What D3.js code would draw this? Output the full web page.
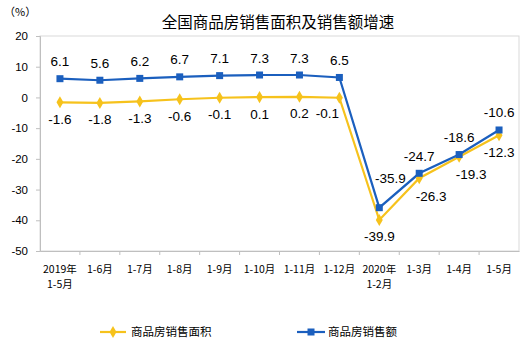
<!DOCTYPE html>
<html><head><meta charset="utf-8">
<script src="https://cdn.jsdelivr.net/npm/d3@7"></script>
<style>body{margin:0;background:#fff}svg{display:block}</style>
</head><body>
<svg id="c" width="524" height="342"></svg>
<script>
const categories = [["2019年","1-5月"],["1-6月"],["1-7月"],["1-8月"],["1-9月"],["1-10月"],["1-11月"],["1-12月"],["2020年","1-2月"],["1-3月"],["1-4月"],["1-5月"]];
const areaGrowth = [-1.6,-1.8,-1.3,-0.6,-0.1,0.1,0.2,-0.1,-39.9,-26.3,-19.3,-12.3];
const salesGrowth = [6.1,5.6,6.2,6.7,7.1,7.3,7.3,6.5,-35.9,-24.7,-18.6,-10.6];
const yTicks = [20,10,0,-10,-20,-30,-40,-50];
const seriesNames = ["商品房销售面积","商品房销售额"];
const title = "全国商品房销售面积及销售额增速";
const unit = "（%）";

const svg = d3.select("#c");
const L=40,R=519,T=36,B=251;
const yellow="#F6C21C", blue="#1B5FBE";
const x = d3.scaleBand().domain(d3.range(categories.length)).range([L,R]);
const y = d3.scaleLinear().domain([-50,20]).range([B,T]);
const cx = i => x(i)+x.bandwidth()/2;

// frame
svg.append("rect").attr("x",L).attr("y",T).attr("width",R-L).attr("height",B-T)
  .attr("fill","none").attr("stroke","#D9D9D9");
// y axis
const ya = svg.append("g").attr("transform",`translate(${L},0)`)
  .call(d3.axisLeft(y).tickValues(yTicks).tickSize(4).tickPadding(8).tickFormat(d=>String(d)));
ya.select(".domain").attr("stroke","#BFBFBF");
ya.selectAll(".tick line").attr("stroke","#BFBFBF");
ya.selectAll("text").attr("font-family","Liberation Sans, Arial").attr("font-size","11.5px").attr("fill","#000");
// x axis
const xa = svg.append("g").attr("transform",`translate(0,${B})`)
  .call(d3.axisBottom(x).tickSize(0).tickFormat(""));
xa.select(".domain").attr("stroke","#BFBFBF");
const bounds = d3.range(1,categories.length);
svg.selectAll(".xt").data(bounds).join("line")
  .attr("x1",i=>x(i)).attr("x2",i=>x(i)).attr("y1",B).attr("y2",B+4).attr("stroke","#BFBFBF");
const xl = svg.append("g").selectAll("text").data(categories).join("text")
  .attr("x",(d,i)=>cx(i)).attr("y",B+22).attr("text-anchor","middle")
  .attr("font-family","Noto Sans CJK SC").attr("font-size","10.5px").attr("fill","#000");
xl.each(function(d){
  const t=d3.select(this);
  d.forEach((s,k)=>t.append("tspan").attr("x",t.attr("x")).attr("dy",k?14.5:0).text(s));
});

// title & unit
svg.append("text").attr("x",278).attr("y",28).attr("text-anchor","middle")
  .attr("font-family","Noto Sans CJK SC").attr("font-size","15.5px").attr("fill","#000").text(title);
svg.append("text").attr("x",4).attr("y",16)
  .attr("font-family","Noto Sans CJK SC").attr("font-size","11px").attr("fill","#000").text(unit);

// lines
const line = d3.line().x((d,i)=>cx(i)).y(d=>y(d));
svg.append("path").datum(areaGrowth).attr("d",line).attr("fill","none").attr("stroke",yellow).attr("stroke-width",2.2);
svg.append("path").datum(salesGrowth).attr("d",line).attr("fill","none").attr("stroke",blue).attr("stroke-width",2.2);
const diamond = d3.symbol().type(d3.symbolDiamond).size(42);
svg.selectAll(".dm").data(areaGrowth).join("path")
  .attr("transform",(d,i)=>`translate(${cx(i)},${y(d)})`).attr("d",diamond).attr("fill",yellow);
svg.selectAll(".sq").data(salesGrowth).join("rect")
  .attr("x",(d,i)=>cx(i)-3.5).attr("y",d=>y(d)-3.5).attr("width",7).attr("height",7).attr("fill",blue);

// labels
const fmt = d => d.toFixed(1);
function addLabels(data, place){
  svg.append("g").selectAll("text").data(data).join("text")
    .attr("x",(d,i)=>cx(i)+place(i)[0]).attr("y",(d,i)=>y(d)+place(i)[1])
    .attr("text-anchor","middle").attr("dominant-baseline","central")
    .attr("font-family","Liberation Sans, Arial").attr("font-size","13.5px").attr("fill","#000")
    .text(d=>fmt(d));
}
addLabels(salesGrowth, i => i===8 ? [11,-29] : [0,-17]);
addLabels(areaGrowth, i => (i===9||i===10) ? [12,18] : i===7 ? [-12,16] : [0,17]);

// legend
const lg = svg.append("g");
lg.append("line").attr("x1",100).attr("x2",126).attr("y1",332).attr("y2",332).attr("stroke",yellow).attr("stroke-width",2.2);
lg.append("path").attr("transform","translate(113,332)").attr("d",diamond).attr("fill",yellow);
lg.append("text").attr("x",131).attr("y",336).attr("font-family","Noto Sans CJK SC").attr("font-size","11.5px").text(seriesNames[0]);
lg.append("line").attr("x1",297).attr("x2",325).attr("y1",332).attr("y2",332).attr("stroke",blue).attr("stroke-width",2.2);
lg.append("rect").attr("x",307.5).attr("y",328.5).attr("width",7).attr("height",7).attr("fill",blue);
lg.append("text").attr("x",328).attr("y",336).attr("font-family","Noto Sans CJK SC").attr("font-size","11.5px").text(seriesNames[1]);
</script>
</body></html>
